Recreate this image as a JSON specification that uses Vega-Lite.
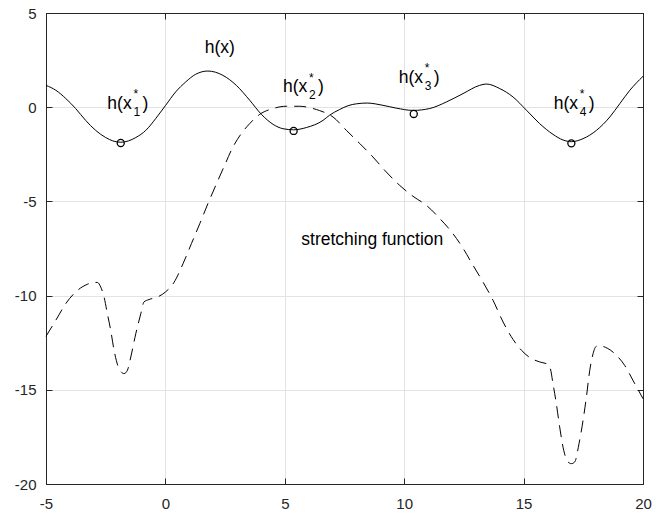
{
  "$schema": "https://vega.github.io/schema/vega-lite/v6.json",
  "width": 597,
  "height": 471,
  "autosize": {"type": "none"},
  "padding": {"left": 46, "top": 13, "right": 18, "bottom": 29},
  "background": "white",
  "config": {
    "view": {"stroke": "#262626", "strokeWidth": 1},
    "axis": {
      "labelFont": "Liberation Sans",
      "labelFontSize": 15,
      "labelColor": "#262626",
      "domainColor": "#262626",
      "tickColor": "#262626",
      "gridColor": "#e3e3e3",
      "gridWidth": 1,
      "title": null,
      "labelFlush": false,
      "labelOverlap": false,
      "labelExpr": "toString(datum.value)"
    },
    "text": {"font": "Liberation Sans", "color": "black"}
  },
  "resolve": {"axis": {"x": "independent", "y": "independent"}},
  "datasets": {
    "h": [
      {"x": -5.0, "y": 1.16}, {"x": -4.59, "y": 0.9}, {"x": -4.17, "y": 0.46}, {"x": -3.76, "y": -0.07},
      {"x": -3.34, "y": -0.7}, {"x": -2.92, "y": -1.23}, {"x": -2.5, "y": -1.61}, {"x": -2.2, "y": -1.79},
      {"x": -1.87, "y": -1.86}, {"x": -1.55, "y": -1.79}, {"x": -1.24, "y": -1.61}, {"x": -0.82, "y": -1.23},
      {"x": -0.41, "y": -0.61}, {"x": 0.01, "y": 0.1}, {"x": 0.43, "y": 0.81}, {"x": 0.85, "y": 1.34},
      {"x": 1.27, "y": 1.75}, {"x": 1.78, "y": 1.92}, {"x": 2.41, "y": 1.69}, {"x": 2.97, "y": 1.16},
      {"x": 3.53, "y": 0.37}, {"x": 4.02, "y": -0.38}, {"x": 4.51, "y": -0.91}, {"x": 4.92, "y": -1.14},
      {"x": 5.37, "y": -1.2}, {"x": 5.9, "y": -1.08}, {"x": 6.6, "y": -0.7}, {"x": 6.88, "y": -0.42},
      {"x": 7.3, "y": -0.12}, {"x": 7.65, "y": 0.08}, {"x": 8.0, "y": 0.18}, {"x": 8.45, "y": 0.22},
      {"x": 9.11, "y": 0.1}, {"x": 9.67, "y": -0.05}, {"x": 10.37, "y": -0.17}, {"x": 11.07, "y": -0.07},
      {"x": 11.77, "y": 0.28}, {"x": 12.46, "y": 0.72}, {"x": 13.16, "y": 1.16}, {"x": 13.44, "y": 1.23},
      {"x": 14.0, "y": 0.99}, {"x": 14.56, "y": 0.54}, {"x": 15.12, "y": -0.16}, {"x": 15.67, "y": -0.87},
      {"x": 16.23, "y": -1.44}, {"x": 16.65, "y": -1.74}, {"x": 17.0, "y": -1.83}, {"x": 17.49, "y": -1.67},
      {"x": 18.05, "y": -1.23}, {"x": 18.61, "y": -0.52}, {"x": 19.03, "y": 0.19}, {"x": 19.45, "y": 0.9},
      {"x": 20.0, "y": 1.64}
    ],
    "stretch": [
      {"x": -5.0, "y": -12.16}, {"x": -4.59, "y": -11.31}, {"x": -4.17, "y": -10.42}, {"x": -3.76, "y": -9.81},
      {"x": -3.27, "y": -9.4}, {"x": -3.0, "y": -9.3}, {"x": -2.85, "y": -9.3}, {"x": -2.71, "y": -9.54},
      {"x": -2.57, "y": -10.07}, {"x": -2.43, "y": -10.96}, {"x": -2.29, "y": -11.84}, {"x": -2.15, "y": -12.9},
      {"x": -1.94, "y": -13.88}, {"x": -1.73, "y": -14.14}, {"x": -1.59, "y": -13.96}, {"x": -1.45, "y": -13.26},
      {"x": -1.24, "y": -12.02}, {"x": -1.03, "y": -10.96}, {"x": -0.9, "y": -10.34}, {"x": -0.69, "y": -10.21},
      {"x": -0.34, "y": -10.08}, {"x": 0.01, "y": -9.8}, {"x": 0.36, "y": -9.3}, {"x": 0.74, "y": -8.3},
      {"x": 1.09, "y": -7.24}, {"x": 1.44, "y": -6.18}, {"x": 1.78, "y": -5.12}, {"x": 2.14, "y": -4.06},
      {"x": 2.48, "y": -3.08}, {"x": 2.83, "y": -2.11}, {"x": 3.18, "y": -1.4}, {"x": 3.53, "y": -0.87},
      {"x": 3.95, "y": -0.38}, {"x": 4.51, "y": -0.07}, {"x": 5.07, "y": 0.05}, {"x": 5.62, "y": 0.05},
      {"x": 6.18, "y": -0.07}, {"x": 6.46, "y": -0.18}, {"x": 7.02, "y": -0.52}, {"x": 7.58, "y": -1.23},
      {"x": 8.14, "y": -1.93}, {"x": 8.69, "y": -2.64}, {"x": 9.25, "y": -3.44}, {"x": 9.81, "y": -4.15},
      {"x": 10.37, "y": -4.73}, {"x": 10.93, "y": -5.21}, {"x": 11.49, "y": -5.91}, {"x": 12.04, "y": -6.71},
      {"x": 12.46, "y": -7.48}, {"x": 12.88, "y": -8.39}, {"x": 13.3, "y": -9.28}, {"x": 13.72, "y": -10.25},
      {"x": 14.14, "y": -11.4}, {"x": 14.56, "y": -12.33}, {"x": 14.91, "y": -12.9}, {"x": 15.26, "y": -13.29},
      {"x": 15.67, "y": -13.52}, {"x": 16.02, "y": -13.65}, {"x": 16.12, "y": -13.87}, {"x": 16.23, "y": -14.67},
      {"x": 16.37, "y": -15.73}, {"x": 16.51, "y": -16.97}, {"x": 16.68, "y": -18.21}, {"x": 16.86, "y": -18.83},
      {"x": 17.0, "y": -18.92}, {"x": 17.14, "y": -18.83}, {"x": 17.32, "y": -17.86}, {"x": 17.49, "y": -16.62},
      {"x": 17.63, "y": -15.38}, {"x": 17.77, "y": -13.97}, {"x": 17.91, "y": -13.08}, {"x": 18.05, "y": -12.69},
      {"x": 18.26, "y": -12.69}, {"x": 18.53, "y": -12.81}, {"x": 18.89, "y": -13.17}, {"x": 19.23, "y": -13.7},
      {"x": 19.58, "y": -14.5}, {"x": 20.0, "y": -15.47}
    ],
    "minima": [
      {"x": -1.87, "y": -1.9}, {"x": 5.37, "y": -1.26}, {"x": 10.4, "y": -0.36}, {"x": 17.0, "y": -1.92}
    ],
    "labels": [
      {"x": 1.646, "y": 2.9, "text": "h(x)"},
      {"x": 5.69, "y": -7.33, "text": "stretching function"},
      {"x": -2.43, "y": -0.085, "text": "h(x"}, {"x": -0.96, "y": -0.085, "text": ")"},
      {"x": 4.925, "y": 0.79, "text": "h(x"}, {"x": 6.39, "y": 0.79, "text": ")"},
      {"x": 9.77, "y": 1.295, "text": "h(x"}, {"x": 11.24, "y": 1.295, "text": ")"},
      {"x": 16.26, "y": -0.074, "text": "h(x"}, {"x": 17.73, "y": -0.074, "text": ")"}
    ],
    "subs": [
      {"x": -1.34, "y": -0.456, "text": "1"},
      {"x": 6.01, "y": 0.42, "text": "2"},
      {"x": 10.86, "y": 0.92, "text": "3"},
      {"x": 17.35, "y": -0.446, "text": "4"}
    ],
    "sups": [
      {"x": -1.34, "y": 0.47, "text": "*"},
      {"x": 6.01, "y": 1.35, "text": "*"},
      {"x": 10.86, "y": 1.85, "text": "*"},
      {"x": 17.35, "y": 0.48, "text": "*"}
    ]
  },
  "layer": [
    {
      "data": {"name": "h"},
      "mark": {"type": "line", "color": "black", "strokeWidth": 1, "interpolate": "monotone"},
      "encoding": {
        "x": {"field": "x", "type": "quantitative", "scale": {"domain": [-5, 20], "nice": false, "zero": false},
              "axis": {"orient": "bottom", "values": [-5, 0, 5, 10, 15, 20], "grid": true, "tickSize": -6, "labelPadding": 18.5}},
        "y": {"field": "y", "type": "quantitative", "scale": {"domain": [-20, 5], "nice": false, "zero": false},
              "axis": {"orient": "left", "values": [-20, -15, -10, -5, 0, 5], "grid": true, "tickSize": -6, "labelPadding": 16}}
      }
    },
    {
      "data": {"name": "stretch"},
      "mark": {"type": "line", "color": "black", "strokeWidth": 1, "interpolate": "monotone", "strokeDash": [12, 7]},
      "encoding": {
        "x": {"field": "x", "type": "quantitative", "scale": {"domain": [-5, 20], "nice": false, "zero": false},
              "axis": {"orient": "top", "values": [-5, 0, 5, 10, 15, 20], "grid": false, "labels": false, "tickSize": -6}},
        "y": {"field": "y", "type": "quantitative", "scale": {"domain": [-20, 5], "nice": false, "zero": false},
              "axis": {"orient": "right", "values": [-20, -15, -10, -5, 0, 5], "grid": false, "labels": false, "tickSize": -6}}
      }
    },
    {
      "data": {"name": "minima"},
      "mark": {"type": "point", "shape": "circle", "filled": false, "size": 50, "stroke": "black", "strokeWidth": 1.3, "opacity": 1},
      "encoding": {
        "x": {"field": "x", "type": "quantitative", "axis": null},
        "y": {"field": "y", "type": "quantitative", "axis": null}
      }
    },
    {
      "data": {"name": "labels"},
      "mark": {"type": "text", "fontSize": 17.5, "align": "left", "baseline": "alphabetic"},
      "encoding": {
        "x": {"field": "x", "type": "quantitative", "axis": null},
        "y": {"field": "y", "type": "quantitative", "axis": null},
        "text": {"field": "text"}
      }
    },
    {
      "data": {"name": "subs"},
      "mark": {"type": "text", "fontSize": 12, "align": "left", "baseline": "alphabetic"},
      "encoding": {
        "x": {"field": "x", "type": "quantitative", "axis": null},
        "y": {"field": "y", "type": "quantitative", "axis": null},
        "text": {"field": "text"}
      }
    },
    {
      "data": {"name": "sups"},
      "mark": {"type": "text", "fontSize": 12, "align": "left", "baseline": "alphabetic"},
      "encoding": {
        "x": {"field": "x", "type": "quantitative", "axis": null},
        "y": {"field": "y", "type": "quantitative", "axis": null},
        "text": {"field": "text"}
      }
    }
  ]
}
